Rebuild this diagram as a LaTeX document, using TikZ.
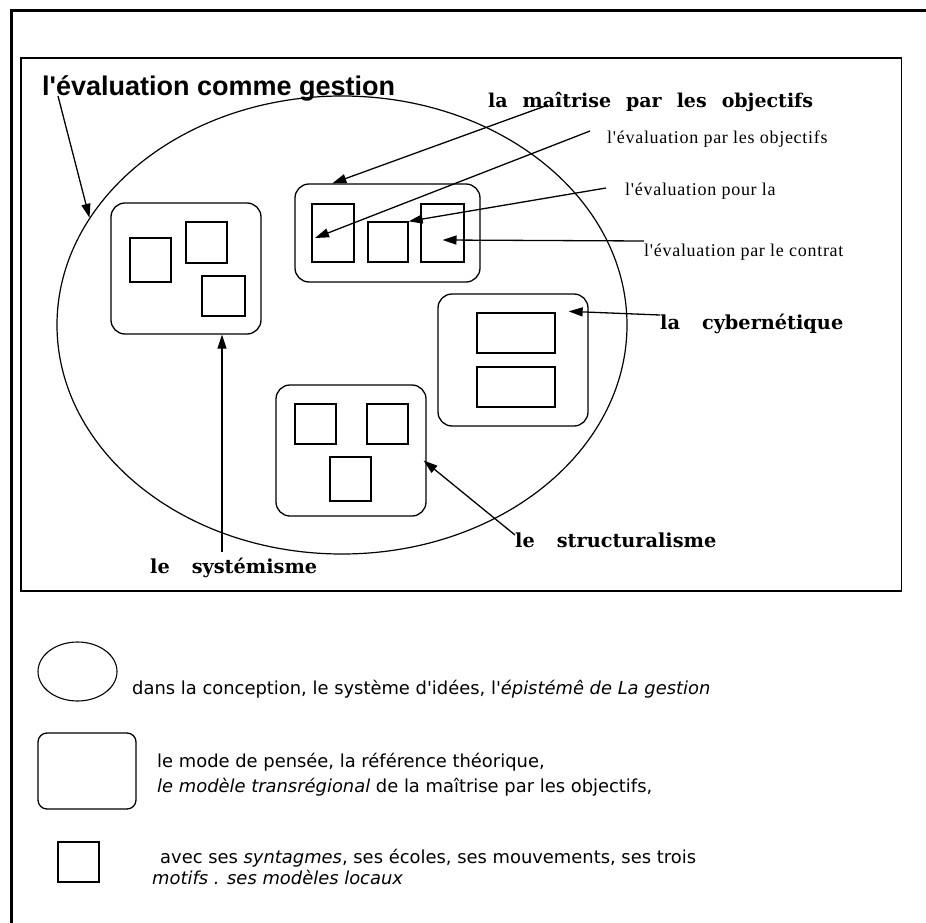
\documentclass[tikz,border=0pt]{standalone}
\usepackage{fontspec}
\setmainfont{Liberation Serif}
\newfontfamily\legendefont[Ligatures=ResetAll]{DejaVu Sans}
\newfontfamily\titrefont[Ligatures=ResetAll]{Liberation Sans}
\newfontfamily\courantfont{DejaVu Serif}
\newfontfamily\sousfont[LetterSpace=4,Ligatures=ResetAll]{Liberation Serif}
\newcommand{\espacelarge}{\spaceskip=22pt\relax}
\newcommand{\espaceserre}{\spaceskip=15pt\relax}
\usetikzlibrary{arrows.meta, shapes.geometric}

\begin{document}
\begin{tikzpicture}[x=1pt, y=-1pt,
  modele/.style={draw, line width=1.3pt, rounded corners=14pt, inner sep=0pt},
  motif/.style={draw, line width=1.3pt, inner sep=0pt},
  fleche/.style={-{Triangle[length=14pt,width=9pt]}, line width=1.3pt},
  courant/.style={font=\courantfont\bfseries\fontsize{19.3}{24}\selectfont\espacelarge, anchor=base west, inner sep=0pt},
  courantserre/.style={font=\courantfont\bfseries\fontsize{19}{24}\selectfont\espaceserre, anchor=base west, inner sep=0pt},
  sous/.style={font=\sousfont\fontsize{18}{20}\selectfont, anchor=base west, inner sep=0pt},
  legende/.style={font=\legendefont\fontsize{17.9}{20}\selectfont, anchor=base west, inner sep=0pt}]
  \useasboundingbox (0,0) rectangle (926,923);
  \draw[line width=3pt] (926,10.5) -- (11,10.5) -- (11,923); % cadre
  \draw[line width=1.5pt] (21,58) rectangle (901.5,591);
  % l'episteme
  \node[ellipse, draw, line width=1.2pt, minimum width=570pt, minimum height=458pt] (gestion) at (342,325) {};
  \node[anchor=base west, inner sep=0pt, font=\titrefont\bfseries\fontsize{27}{30}\selectfont] (titre) at (42,96) {l'évaluation comme gestion};
  % les modes de pensee
  \node[modele, minimum width=150pt, minimum height=131pt] (sys) at (186,268.5) {};
  \node[motif, minimum width=41pt, minimum height=44pt] (sys1) at (150.5,260) {};
  \node[motif, minimum width=41pt, minimum height=41pt] (sys2) at (206.5,242.5) {};
  \node[motif, minimum width=43pt, minimum height=40pt] (sys3) at (223.5,296) {};
  \node[modele, minimum width=185pt, minimum height=98pt] (mpo) at (387.5,233) {};
  \node[motif, minimum width=42pt, minimum height=58pt] (mpo1) at (333,233) {};
  \node[motif, minimum width=40pt, minimum height=40pt] (mpo2) at (388,242) {};
  \node[motif, minimum width=43pt, minimum height=58pt] (mpo3) at (442.5,233) {};
  \node[modele, minimum width=150pt, minimum height=132pt] (cyb) at (513,360) {};
  \node[motif, minimum width=78pt, minimum height=40pt] (cyb1) at (516,333) {};
  \node[motif, minimum width=78pt, minimum height=40pt] (cyb2) at (516,387) {};
  \node[modele, minimum width=150pt, minimum height=131pt] (str) at (351,450.5) {};
  \node[motif, minimum width=41pt, minimum height=40pt] (str1) at (315.5,424) {};
  \node[motif, minimum width=41pt, minimum height=40pt] (str2) at (387.5,424) {};
  \node[motif, minimum width=41pt, minimum height=44pt] (str3) at (350.5,479) {};
  % etiquettes
  \node[courantserre] (maitrise) at (488,108) {la maîtrise par les objectifs};
  \node[sous] (parobj) at (607,143) {l'évaluation par les objectifs};
  \node[sous] (pourla) at (625,195) {l'évaluation pour la};
  \node[sous] (contrat) at (644,256) {l'évaluation par le contrat};
  \node[courant] (cyber) at (660,329) {la cybernétique};
  \node[courant] (struct) at (515,547) {le structuralisme};
  \node[courant] (systemisme) at (150,573) {le systémisme};
  % fleches
  \draw[fleche] ([xshift=16pt]titre.base west) -- (gestion.157);
  \draw[fleche] ([xshift=60pt,yshift=3pt]maitrise.base west) -- ([xshift=38pt]mpo.north west);
  \draw[fleche] ([xshift=-17pt,yshift=12pt]parobj.base west) -- ([xshift=-18pt,yshift=-5pt]mpo1.center);
  \draw[fleche] ([xshift=-19pt,yshift=7pt]pourla.base west) -- (mpo2.north east);
  \draw[fleche] ([yshift=15pt]contrat.base west) -- ([yshift=-7pt]mpo3.center);
  \draw[fleche] ([yshift=14pt]cyber.base west) -- ([xshift=-20pt,yshift=-18pt]cyb.north east);
  \draw[fleche] ([yshift=12pt]struct.base west) -- ([xshift=-3pt,yshift=-10pt]str.east);
  \draw[fleche] ([xshift=72pt,yshift=21pt]systemisme.base west) -- ([xshift=36pt]sys.south);
  % legende
  \node[ellipse, draw, line width=1.1pt, minimum width=79pt, minimum height=59pt] (legepi) at (77.5,671.5) {};
  \node[legende] (leg1) at (132,694) {dans la conception, le système d'idées, l'\textit{épistémê de La gestion}};
  \node[modele, rounded corners=9pt, minimum width=98pt, minimum height=76pt] (legmode) at (87,771) {};
  \node[legende] (leg2a) at (157,767) {le mode de pensée, la référence théorique,};
  \node[legende] (leg2b) at (157,792) {\textit{le modèle transrégional} de la maîtrise par les objectifs,};
  \node[motif, minimum width=41pt, minimum height=40pt] (legmotif) at (78.5,862) {};
  \node[legende] (leg3a) at (160,863) {avec ses \textit{syntagmes}, ses écoles, ses mouvements, ses trois};
  \node[legende] (leg3b) at (152,884) {\textit{motifs . ses modèles locaux}};
\end{tikzpicture}
\end{document}
